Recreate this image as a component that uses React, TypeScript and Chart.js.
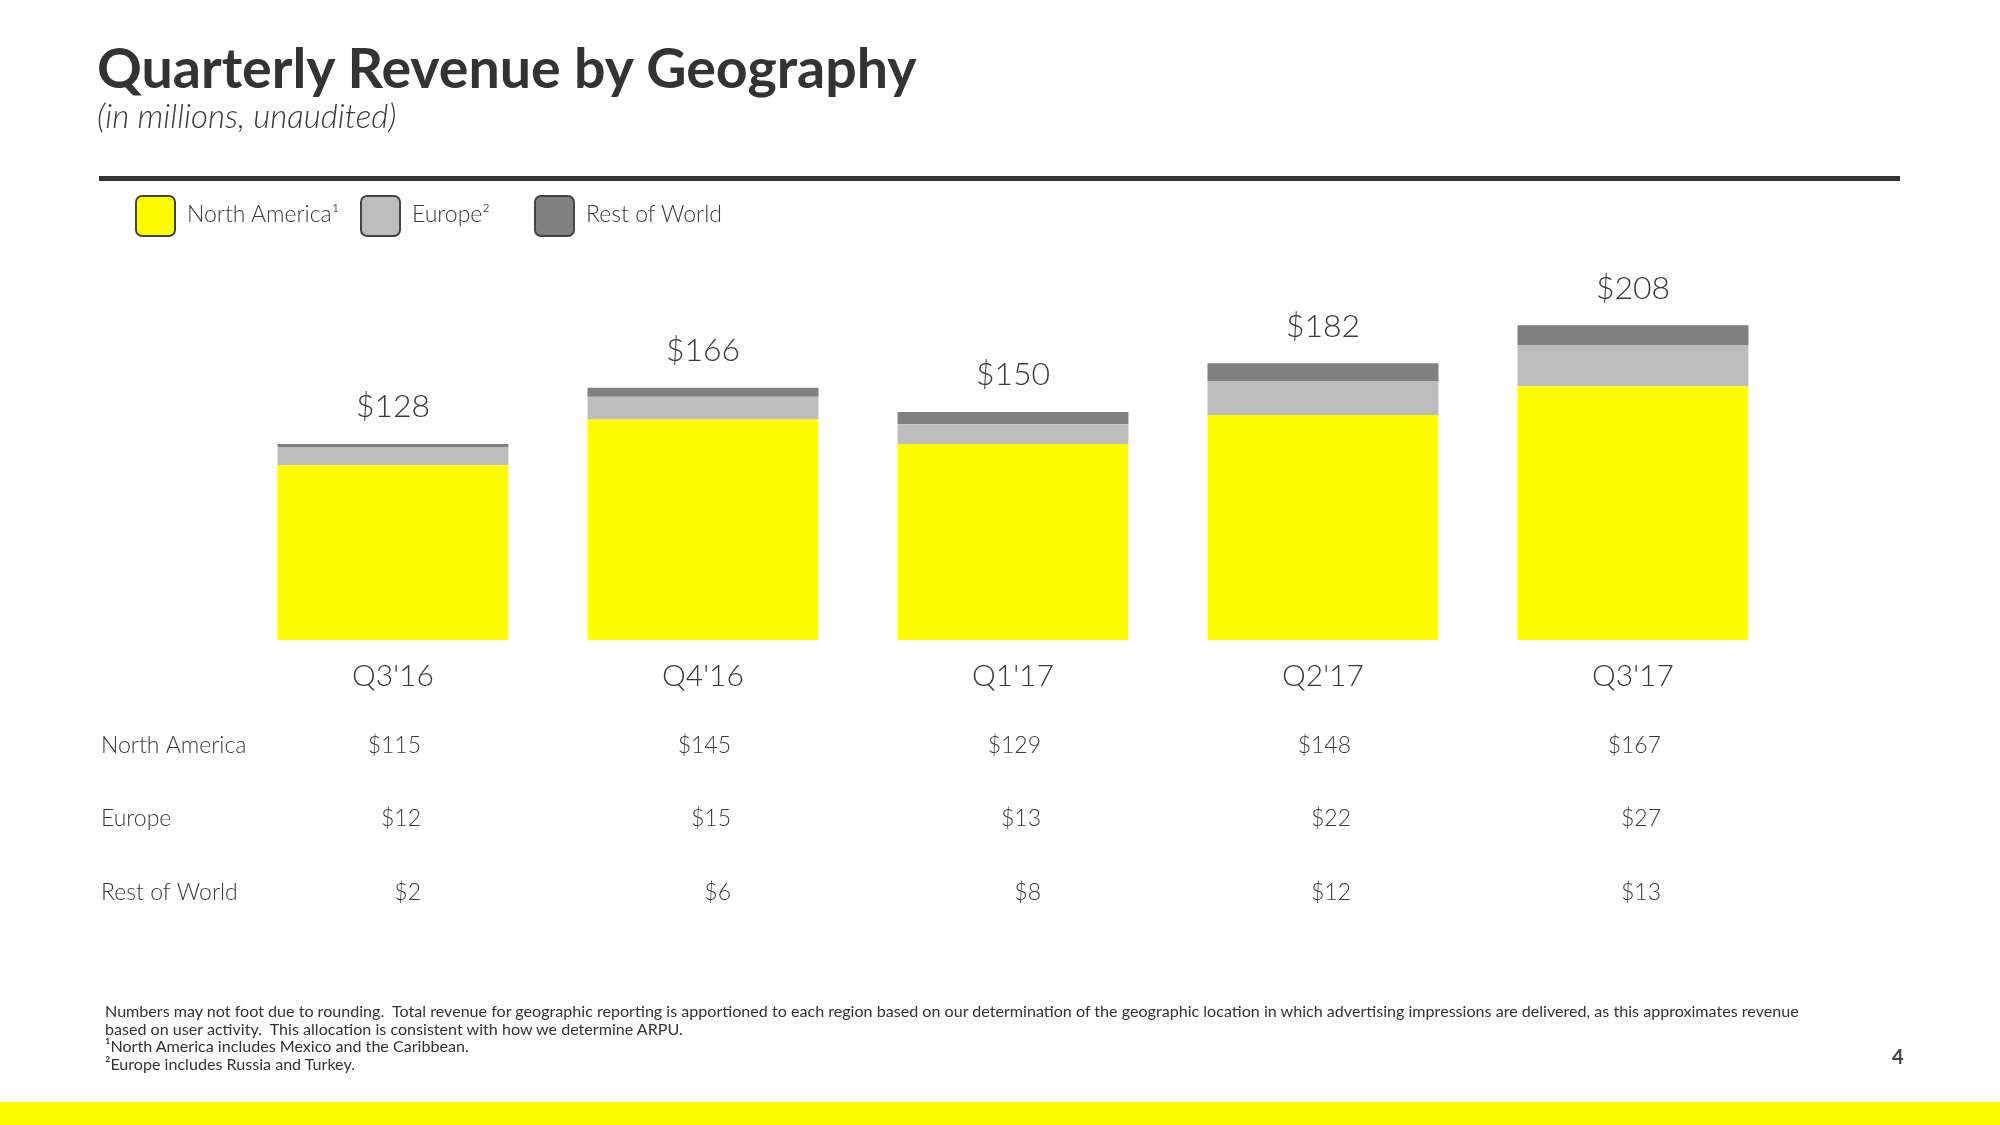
import React, { useEffect, useRef } from "react";
import { Chart, registerables } from "chart.js";

Chart.register(...registerables);

const categories = ["Q3'16", "Q4'16", "Q1'17", "Q2'17", "Q3'17"];
const northAmerica = [115, 145, 129, 148, 167];
const europe = [12, 15, 13, 22, 27];
const restOfWorld = [2, 6, 8, 12, 13];
const totals = [128, 166, 150, 182, 208];
const rowLabels = ["North America", "Europe", "Rest of World"];
const legendLabels = ["North America\u00B9", "Europe\u00B2", "Rest of World"];

const YELLOW = "#FFFC00";
const LIGHT_GRAY = "#BDBDBD";
const DARK_GRAY = "#808080";
const TEXT = "#3a3a3a";
const FONT = "Lato, 'Open Sans', sans-serif";

const labelsPlugin = {
  id: "labelsPlugin",
  afterDatasetsDraw(chart: any) {
    const ctx = chart.ctx;
    const xs = chart.scales.x;
    const ys = chart.scales.y;
    const base = ys.getPixelForValue(0);
    const topMeta = chart.getDatasetMeta(2);
    const rows = [northAmerica, europe, restOfWorld];
    const rowOffsets = [106, 179, 253];
    ctx.save();
    ctx.fillStyle = TEXT;
    categories.forEach((cat, i) => {
      const cx = xs.getPixelForValue(i);
      const top = topMeta.data[i].y;
      ctx.textAlign = "center";
      ctx.textBaseline = "middle";
      ctx.font = `300 32px ${FONT}`;
      ctx.fillText("$" + totals[i], cx, top - 37);
      ctx.font = `300 30px ${FONT}`;
      ctx.fillText(cat, cx, base + 36);
      ctx.font = `300 23px ${FONT}`;
      ctx.textAlign = "right";
      rows.forEach((r, k) => {
        ctx.fillText("$" + r[i], cx + 28, base + rowOffsets[k]);
      });
    });
    ctx.textAlign = "left";
    ctx.font = `300 23px ${FONT}`;
    rowLabels.forEach((l, k) => {
      ctx.fillText(l, 101, base + rowOffsets[k]);
    });
    ctx.restore();
  },
};

export default function App() {
  const ref = useRef<HTMLCanvasElement | null>(null);

  useEffect(() => {
    document.body.style.margin = "0";
    const canvas = ref.current;
    if (!canvas) return;
    const chart = new Chart(canvas, {
      type: "bar",
      data: {
        labels: categories,
        datasets: [
          { label: "North America", data: northAmerica, backgroundColor: YELLOW, borderWidth: 0 },
          { label: "Europe", data: europe, backgroundColor: LIGHT_GRAY, borderWidth: 0 },
          { label: "Rest of World", data: restOfWorld, backgroundColor: DARK_GRAY, borderWidth: 0 },
        ],
      },
      options: {
        animation: false,
        responsive: false,
        maintainAspectRatio: false,
        devicePixelRatio: 1,
        layout: { padding: { left: 238, right: 212, top: 260, bottom: 485 } },
        plugins: { legend: { display: false }, tooltip: { enabled: false } },
        datasets: { bar: { barPercentage: 0.745, categoryPercentage: 1 } },
        scales: {
          x: { stacked: true, display: false, grid: { display: false } },
          y: { stacked: true, display: false, min: 0, max: 250, grid: { display: false } },
        },
      },
      plugins: [labelsPlugin],
    });
    return () => chart.destroy();
  }, []);

  const abs = (style: React.CSSProperties): React.CSSProperties => ({ position: "absolute", ...style });
  const legendColors = [YELLOW, LIGHT_GRAY, DARK_GRAY];
  const legendBoxX = [135, 360, 534];

  return (
    <div style={{ position: "fixed", left: 0, top: 0, width: 2000, height: 1125, background: "#fff", overflow: "hidden", fontFamily: FONT, color: TEXT }}>
      <canvas ref={ref} width={2000} height={1125} style={abs({ left: 0, top: 0, width: 2000, height: 1125 })} />
      <div style={abs({ left: 97, top: 39, fontSize: 55.5, fontWeight: 700, lineHeight: 1, color: "#333", whiteSpace: "nowrap" })}>
        Quarterly Revenue by Geography
      </div>
      <div style={abs({ left: 97, top: 99, fontSize: 33, fontStyle: "italic", fontWeight: 300, lineHeight: 1, whiteSpace: "nowrap" })}>
        (in millions, unaudited)
      </div>
      <div style={abs({ left: 99, top: 176, width: 1801, height: 5, background: "#333" })} />
      {legendLabels.map((l, i) => (
        <div key={l} style={abs({ left: legendBoxX[i], top: 195, height: 42, display: "flex", alignItems: "center", whiteSpace: "nowrap" })}>
          <div style={{ width: 37, height: 38, background: legendColors[i], border: "2px solid #444", borderRadius: 7 }} />
          <span style={{ marginLeft: 11, fontSize: 23, fontWeight: 300, marginTop: -6 }}>{l}</span>
        </div>
      ))}
      <div style={abs({ left: 105, top: 1002, fontSize: 16.1, lineHeight: "17.7px", fontWeight: 400, color: "#333", whiteSpace: "pre" })}>
        {"Numbers may not foot due to rounding.  Total revenue for geographic reporting is apportioned to each region based on our determination of the geographic location in which advertising impressions are delivered, as this approximates revenue\nbased on user activity.  This allocation is consistent with how we determine ARPU.\n\u00B9North America includes Mexico and the Caribbean.\n\u00B2Europe includes Russia and Turkey."}
      </div>
      <div style={abs({ left: 1892, top: 1046, fontSize: 20, fontWeight: 700, color: "#444", lineHeight: 1 })}>4</div>
      <div style={abs({ left: 0, top: 1102, width: 2000, height: 23, background: YELLOW })} />
    </div>
  );
}
